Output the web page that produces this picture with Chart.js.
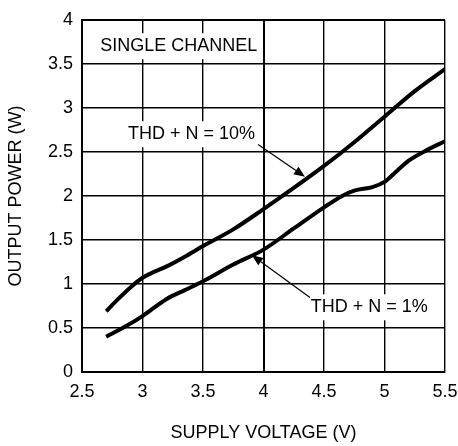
<!DOCTYPE html>
<html>
<head>
<meta charset="utf-8">
<script src="https://cdn.jsdelivr.net/npm/chart.js@4/dist/chart.umd.min.js"></script>
<style>
  body { margin: 0; background: #fff; }
  #wrap { width: 458px; height: 446px; }
</style>
</head>
<body>
<div id="wrap"><canvas id="chart" width="458" height="446"></canvas></div>
<script>
// supply voltage (V) and output power (W)
const volts10 = [2.7, 2.8, 2.9, 3.0, 3.1, 3.2, 3.35, 3.5, 3.75, 4.0, 4.25, 4.5, 4.75, 5.0, 5.25, 5.5];
const power10 = [0.69, 0.83, 0.96, 1.07, 1.14, 1.2, 1.31, 1.43, 1.62, 1.85, 2.09, 2.34, 2.61, 2.9, 3.19, 3.44];

const volts1 = [2.7, 2.85, 3.0, 3.2, 3.35, 3.5, 3.75, 4.0, 4.25, 4.5, 4.65, 4.75, 4.9, 5.0, 5.1, 5.2, 5.35, 5.5];
const power1 = [0.40, 0.51, 0.635, 0.83, 0.93, 1.03, 1.22, 1.39, 1.63, 1.87, 2.0, 2.06, 2.1, 2.16, 2.28, 2.4, 2.52, 2.62];

const xTicks = [2.5, 3, 3.5, 4, 4.5, 5, 5.5];
const yTicks = [0, 0.5, 1, 1.5, 2, 2.5, 3, 3.5, 4];

// labels and arrows, placed in data units
const notes = [
    { text: "SINGLE CHANNEL", x: 2.65, y: 3.70 },
    { text: "THD + N = 10%", x: 2.88, y: 2.70 },
    { text: "THD + N = 1%", x: 4.39, y: 0.735 }
];
const arrows = [
    { from: [3.955, 2.585], to: [4.343, 2.217] },
    { from: [4.384, 0.847], to: [3.905, 1.326] }
];

const FONT = "'Liberation Sans', Arial, sans-serif";
const NOTE_FONT = "18px " + FONT;

const toPoints = (xs, ys) => xs.map((x, i) => ({ x: x, y: ys[i] }));

const notesPlugin = {
    id: "notes",
    // white boxes behind the labels break the grid lines, as in the original
    beforeDatasetsDraw(chart) {
        const ctx = chart.ctx;
        const sx = chart.scales.x, sy = chart.scales.y;
        ctx.save();
        ctx.font = NOTE_FONT;
        ctx.fillStyle = "#fff";
        notes.forEach(n => {
            const px = sx.getPixelForValue(n.x), py = sy.getPixelForValue(n.y);
            const w = ctx.measureText(n.text).width;
            ctx.fillRect(px - 4, py - 13, w + 8, 26);
        });
        ctx.restore();
    },
    afterDatasetsDraw(chart) {
        const ctx = chart.ctx;
        const sx = chart.scales.x, sy = chart.scales.y;
        ctx.save();
        ctx.fillStyle = "#000";
        ctx.font = NOTE_FONT;
        ctx.textAlign = "left";
        ctx.textBaseline = "middle";
        notes.forEach(n => {
            ctx.fillText(n.text, sx.getPixelForValue(n.x), sy.getPixelForValue(n.y));
        });

        ctx.strokeStyle = "#000";
        ctx.lineWidth = 1.2;
        arrows.forEach(a => {
            const x0 = sx.getPixelForValue(a.from[0]), y0 = sy.getPixelForValue(a.from[1]);
            const x1 = sx.getPixelForValue(a.to[0]), y1 = sy.getPixelForValue(a.to[1]);
            const ang = Math.atan2(y1 - y0, x1 - x0);
            const len = 11, half = 4.5;
            const bx = x1 - len * Math.cos(ang), by = y1 - len * Math.sin(ang);
            ctx.beginPath();
            ctx.moveTo(x0, y0);
            ctx.lineTo(bx, by);
            ctx.stroke();
            ctx.beginPath();
            ctx.moveTo(x1, y1);
            ctx.lineTo(bx + half * Math.sin(ang), by - half * Math.cos(ang));
            ctx.lineTo(bx - half * Math.sin(ang), by + half * Math.cos(ang));
            ctx.closePath();
            ctx.fill();
        });
        ctx.restore();
    }
};

new Chart(document.getElementById("chart"), {
    type: "line",
    data: {
        datasets: [
            { label: "THD + N = 10%", data: toPoints(volts10, power10) },
            { label: "THD + N = 1%", data: toPoints(volts1, power1) }
        ]
    },
    options: {
        responsive: false,
        animation: false,
        events: [],
        layout: { padding: { top: 13, right: 13, left: 0, bottom: 0 } },
        elements: {
            line: { borderColor: "#000", borderWidth: 4, tension: 0.4, cubicInterpolationMode: "monotone", fill: false },
            point: { radius: 0 }
        },
        plugins: { legend: { display: false }, tooltip: { enabled: false } },
        scales: {
            x: {
                type: "linear",
                min: xTicks[0],
                max: xTicks[xTicks.length - 1],
                afterBuildTicks: s => { s.ticks = xTicks.map(v => ({ value: v })); },
                afterFit: s => { s.height = 74; s.paddingLeft = 0; s.paddingRight = 0; },
                grid: {
                    color: "#000",
                    lineWidth: c => (c.tick && c.tick.value === 4) ? 2 : 1.4,
                    drawTicks: false
                },
                border: { display: true, color: "#000", width: 2 },
                ticks: { color: "#000", padding: 9, font: { family: FONT, size: 18 }, callback: v => String(v) },
                title: {
                    display: true,
                    text: "SUPPLY VOLTAGE (V)",
                    color: "#000",
                    font: { family: FONT, size: 18 },
                    padding: { top: 0, bottom: 2 }
                }
            },
            y: {
                min: yTicks[0],
                max: yTicks[yTicks.length - 1],
                afterBuildTicks: s => { s.ticks = yTicks.map(v => ({ value: v })); },
                afterFit: s => { s.width = 82; },
                grid: {
                    color: "#000",
                    lineWidth: c => (c.tick && c.tick.value === 4) ? 2 : 1.4,
                    drawTicks: false
                },
                border: { display: true, color: "#000", width: 2 },
                ticks: { color: "#000", padding: 9, font: { family: FONT, size: 18 }, callback: v => String(v) },
                title: {
                    display: true,
                    text: "OUTPUT POWER (W)",
                    color: "#000",
                    font: { family: FONT, size: 18 },
                    padding: { top: 5, bottom: 0 }
                }
            }
        }
    },
    plugins: [notesPlugin]
});
</script>
</body>
</html>
